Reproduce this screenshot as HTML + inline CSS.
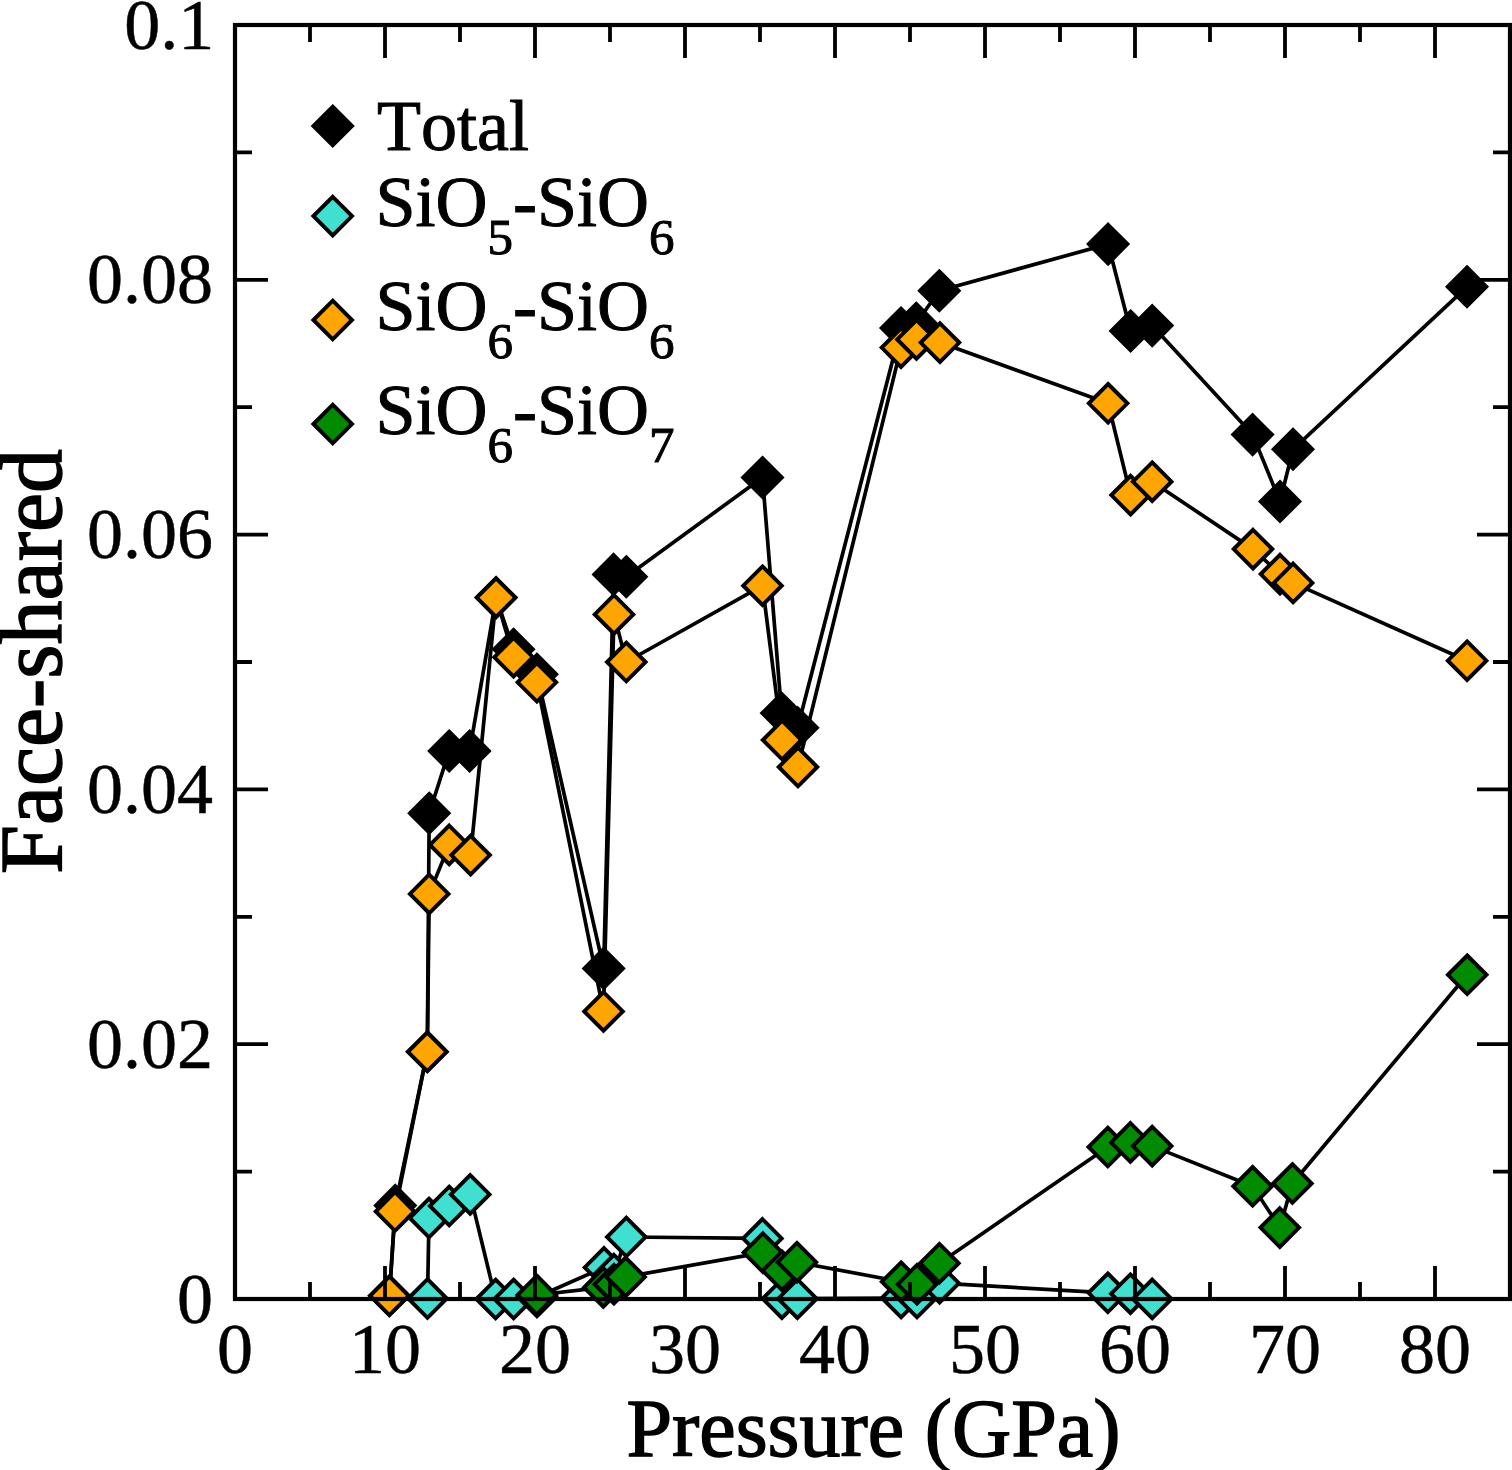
<!DOCTYPE html>
<html lang="en"><head><meta charset="utf-8"><title>Face-shared vs Pressure</title>
<style>
html,body{margin:0;padding:0;background:#fff;}
body{width:1512px;height:1470px;overflow:hidden;}
svg{display:block;}
text{font-family:"Liberation Serif","Times New Roman",Times,serif;fill:#000;font-kerning:none;font-variant-ligatures:none;}
.tk{font-size:72px;stroke:#000;stroke-width:0.5px;}
.lg{font-size:72px;stroke:#000;stroke-width:1px;}
.sb{font-size:51px;}
</style></head><body>
<svg width="1512" height="1470" viewBox="0 0 1512 1470">
<rect width="1512" height="1470" fill="#fff"/>
<!-- data -->
<polyline fill="none" stroke="#000" stroke-width="3.7" stroke-linejoin="round" points="389.4,1295.8 395.3,1205.4 427.3,1051.8 429.2,813.3 449.2,751.0 469.6,751.0 496.1,597.6 513.5,649.3 536.9,674.3 603.7,968.4 613.6,574.4 626.3,576.7 762.5,477.5 781.6,713.1 797.6,727.8 901.0,328.0 916.2,323.3 939.3,290.7 1108.1,244.1 1130.6,331.0 1152.2,325.6 1252.6,434.6 1280.0,501.5 1293.0,449.3 1467.0,286.8"/>
<g stroke="#000" stroke-width="3.9" stroke-linejoin="miter">
<path d="M389.4 1276.5L408.7 1295.8L389.4 1315.1L370.1 1295.8Z" fill="#000"/>
<path d="M395.3 1186.1L414.6 1205.4L395.3 1224.7L376.0 1205.4Z" fill="#000"/>
<path d="M427.3 1032.5L446.6 1051.8L427.3 1071.1L408.0 1051.8Z" fill="#000"/>
<path d="M429.2 794.0L448.5 813.3L429.2 832.6L409.9 813.3Z" fill="#000"/>
<path d="M449.2 731.7L468.5 751.0L449.2 770.3L429.9 751.0Z" fill="#000"/>
<path d="M469.6 731.7L488.9 751.0L469.6 770.3L450.3 751.0Z" fill="#000"/>
<path d="M496.1 578.3L515.4 597.6L496.1 616.9L476.8 597.6Z" fill="#000"/>
<path d="M513.5 630.0L532.8 649.3L513.5 668.6L494.2 649.3Z" fill="#000"/>
<path d="M536.9 655.0L556.2 674.3L536.9 693.6L517.6 674.3Z" fill="#000"/>
<path d="M603.7 949.1L623.0 968.4L603.7 987.7L584.4 968.4Z" fill="#000"/>
<path d="M613.6 555.1L632.9 574.4L613.6 593.7L594.3 574.4Z" fill="#000"/>
<path d="M626.3 557.4L645.6 576.7L626.3 596.0L607.0 576.7Z" fill="#000"/>
<path d="M762.5 458.2L781.8 477.5L762.5 496.8L743.2 477.5Z" fill="#000"/>
<path d="M781.6 693.8L800.9 713.1L781.6 732.4L762.3 713.1Z" fill="#000"/>
<path d="M797.6 708.5L816.9 727.8L797.6 747.1L778.3 727.8Z" fill="#000"/>
<path d="M901.0 308.7L920.3 328.0L901.0 347.3L881.7 328.0Z" fill="#000"/>
<path d="M916.2 304.0L935.5 323.3L916.2 342.6L896.9 323.3Z" fill="#000"/>
<path d="M939.3 271.4L958.6 290.7L939.3 310.0L920.0 290.7Z" fill="#000"/>
<path d="M1108.1 224.8L1127.4 244.1L1108.1 263.4L1088.8 244.1Z" fill="#000"/>
<path d="M1130.6 311.7L1149.9 331.0L1130.6 350.3L1111.3 331.0Z" fill="#000"/>
<path d="M1152.2 306.3L1171.5 325.6L1152.2 344.9L1132.9 325.6Z" fill="#000"/>
<path d="M1252.6 415.3L1271.9 434.6L1252.6 453.9L1233.3 434.6Z" fill="#000"/>
<path d="M1280.0 482.2L1299.3 501.5L1280.0 520.8L1260.7 501.5Z" fill="#000"/>
<path d="M1293.0 430.0L1312.3 449.3L1293.0 468.6L1273.7 449.3Z" fill="#000"/>
<path d="M1467.0 267.5L1486.3 286.8L1467.0 306.1L1447.7 286.8Z" fill="#000"/>
</g>
<polyline fill="none" stroke="#000" stroke-width="3.7" stroke-linejoin="round" points="427.5,1298.5 429.0,1218.0 449.2,1206.0 470.2,1194.4 495.6,1299.0 513.6,1299.0 537.0,1297.0 604.0,1267.4 613.9,1274.1 626.3,1237.0 762.4,1238.4 781.9,1298.7 797.4,1298.7 901.1,1298.0 917.0,1298.0 939.6,1283.2 1107.8,1292.8 1130.4,1293.7 1152.2,1298.9"/>
<g stroke="#000" stroke-width="3.9" stroke-linejoin="miter">
<path d="M427.5 1279.2L446.8 1298.5L427.5 1317.8L408.2 1298.5Z" fill="#40e0d0"/>
<path d="M429.0 1198.7L448.3 1218.0L429.0 1237.3L409.7 1218.0Z" fill="#40e0d0"/>
<path d="M449.2 1186.7L468.5 1206.0L449.2 1225.3L429.9 1206.0Z" fill="#40e0d0"/>
<path d="M470.2 1175.1L489.5 1194.4L470.2 1213.7L450.9 1194.4Z" fill="#40e0d0"/>
<path d="M495.6 1279.7L514.9 1299.0L495.6 1318.3L476.3 1299.0Z" fill="#40e0d0"/>
<path d="M513.6 1279.7L532.9 1299.0L513.6 1318.3L494.3 1299.0Z" fill="#40e0d0"/>
<path d="M537.0 1277.7L556.3 1297.0L537.0 1316.3L517.7 1297.0Z" fill="#40e0d0"/>
<path d="M604.0 1248.1L623.3 1267.4L604.0 1286.7L584.7 1267.4Z" fill="#40e0d0"/>
<path d="M613.9 1254.8L633.2 1274.1L613.9 1293.4L594.6 1274.1Z" fill="#40e0d0"/>
<path d="M626.3 1217.7L645.6 1237.0L626.3 1256.3L607.0 1237.0Z" fill="#40e0d0"/>
<path d="M762.4 1219.1L781.7 1238.4L762.4 1257.7L743.1 1238.4Z" fill="#40e0d0"/>
<path d="M781.9 1279.4L801.2 1298.7L781.9 1318.0L762.6 1298.7Z" fill="#40e0d0"/>
<path d="M797.4 1279.4L816.7 1298.7L797.4 1318.0L778.1 1298.7Z" fill="#40e0d0"/>
<path d="M901.1 1278.7L920.4 1298.0L901.1 1317.3L881.8 1298.0Z" fill="#40e0d0"/>
<path d="M917.0 1278.7L936.3 1298.0L917.0 1317.3L897.7 1298.0Z" fill="#40e0d0"/>
<path d="M939.6 1263.9L958.9 1283.2L939.6 1302.5L920.3 1283.2Z" fill="#40e0d0"/>
<path d="M1107.8 1273.5L1127.1 1292.8L1107.8 1312.1L1088.5 1292.8Z" fill="#40e0d0"/>
<path d="M1130.4 1274.4L1149.7 1293.7L1130.4 1313.0L1111.1 1293.7Z" fill="#40e0d0"/>
<path d="M1152.2 1279.6L1171.5 1298.9L1152.2 1318.2L1132.9 1298.9Z" fill="#40e0d0"/>
</g>
<polyline fill="none" stroke="#000" stroke-width="3.7" stroke-linejoin="round" points="389.4,1295.8 395.0,1211.5 427.3,1051.8 429.2,893.9 449.2,844.9 470.6,855.1 496.1,597.6 513.6,657.2 536.9,682.3 603.5,1011.4 614.0,614.4 626.3,662.0 762.5,585.7 782.1,740.0 798.0,767.0 901.0,347.6 916.5,339.4 940.0,342.6 1108.1,403.3 1130.6,495.1 1152.2,481.7 1253.0,549.1 1280.0,574.1 1293.1,582.9 1467.1,660.7"/>
<g stroke="#000" stroke-width="3.9" stroke-linejoin="miter">
<path d="M389.4 1276.5L408.7 1295.8L389.4 1315.1L370.1 1295.8Z" fill="#ffa500"/>
<path d="M395.0 1192.2L414.3 1211.5L395.0 1230.8L375.7 1211.5Z" fill="#ffa500"/>
<path d="M427.3 1032.5L446.6 1051.8L427.3 1071.1L408.0 1051.8Z" fill="#ffa500"/>
<path d="M429.2 874.6L448.5 893.9L429.2 913.2L409.9 893.9Z" fill="#ffa500"/>
<path d="M449.2 825.6L468.5 844.9L449.2 864.2L429.9 844.9Z" fill="#ffa500"/>
<path d="M470.6 835.8L489.9 855.1L470.6 874.4L451.3 855.1Z" fill="#ffa500"/>
<path d="M496.1 578.3L515.4 597.6L496.1 616.9L476.8 597.6Z" fill="#ffa500"/>
<path d="M513.6 637.9L532.9 657.2L513.6 676.5L494.3 657.2Z" fill="#ffa500"/>
<path d="M536.9 663.0L556.2 682.3L536.9 701.6L517.6 682.3Z" fill="#ffa500"/>
<path d="M603.5 992.1L622.8 1011.4L603.5 1030.7L584.2 1011.4Z" fill="#ffa500"/>
<path d="M614.0 595.1L633.3 614.4L614.0 633.7L594.7 614.4Z" fill="#ffa500"/>
<path d="M626.3 642.7L645.6 662.0L626.3 681.3L607.0 662.0Z" fill="#ffa500"/>
<path d="M762.5 566.4L781.8 585.7L762.5 605.0L743.2 585.7Z" fill="#ffa500"/>
<path d="M782.1 720.7L801.4 740.0L782.1 759.3L762.8 740.0Z" fill="#ffa500"/>
<path d="M798.0 747.7L817.3 767.0L798.0 786.3L778.7 767.0Z" fill="#ffa500"/>
<path d="M901.0 328.3L920.3 347.6L901.0 366.9L881.7 347.6Z" fill="#ffa500"/>
<path d="M916.5 320.1L935.8 339.4L916.5 358.7L897.2 339.4Z" fill="#ffa500"/>
<path d="M940.0 323.3L959.3 342.6L940.0 361.9L920.7 342.6Z" fill="#ffa500"/>
<path d="M1108.1 384.0L1127.4 403.3L1108.1 422.6L1088.8 403.3Z" fill="#ffa500"/>
<path d="M1130.6 475.8L1149.9 495.1L1130.6 514.4L1111.3 495.1Z" fill="#ffa500"/>
<path d="M1152.2 462.4L1171.5 481.7L1152.2 501.0L1132.9 481.7Z" fill="#ffa500"/>
<path d="M1253.0 529.8L1272.3 549.1L1253.0 568.4L1233.7 549.1Z" fill="#ffa500"/>
<path d="M1280.0 554.8L1299.3 574.1L1280.0 593.4L1260.7 574.1Z" fill="#ffa500"/>
<path d="M1293.1 563.6L1312.4 582.9L1293.1 602.2L1273.8 582.9Z" fill="#ffa500"/>
<path d="M1467.1 641.4L1486.4 660.7L1467.1 680.0L1447.8 660.7Z" fill="#ffa500"/>
</g>
<polyline fill="none" stroke="#000" stroke-width="3.7" stroke-linejoin="round" points="536.8,1295.0 603.3,1287.4 613.9,1284.2 625.6,1276.9 762.9,1252.6 781.9,1270.7 796.9,1262.2 901.1,1281.7 917.0,1284.3 939.4,1263.2 1107.8,1147.0 1130.4,1142.4 1152.2,1146.1 1252.6,1186.3 1279.8,1227.6 1292.4,1183.5 1467.2,974.8"/>
<g stroke="#000" stroke-width="3.9" stroke-linejoin="miter">
<path d="M536.8 1275.7L556.1 1295.0L536.8 1314.3L517.5 1295.0Z" fill="#008b00"/>
<path d="M603.3 1268.1L622.6 1287.4L603.3 1306.7L584.0 1287.4Z" fill="#008b00"/>
<path d="M613.9 1264.9L633.2 1284.2L613.9 1303.5L594.6 1284.2Z" fill="#008b00"/>
<path d="M625.6 1257.6L644.9 1276.9L625.6 1296.2L606.3 1276.9Z" fill="#008b00"/>
<path d="M762.9 1233.3L782.2 1252.6L762.9 1271.9L743.6 1252.6Z" fill="#008b00"/>
<path d="M781.9 1251.4L801.2 1270.7L781.9 1290.0L762.6 1270.7Z" fill="#008b00"/>
<path d="M796.9 1242.9L816.2 1262.2L796.9 1281.5L777.6 1262.2Z" fill="#008b00"/>
<path d="M901.1 1262.4L920.4 1281.7L901.1 1301.0L881.8 1281.7Z" fill="#008b00"/>
<path d="M917.0 1265.0L936.3 1284.3L917.0 1303.6L897.7 1284.3Z" fill="#008b00"/>
<path d="M939.4 1243.9L958.7 1263.2L939.4 1282.5L920.1 1263.2Z" fill="#008b00"/>
<path d="M1107.8 1127.7L1127.1 1147.0L1107.8 1166.3L1088.5 1147.0Z" fill="#008b00"/>
<path d="M1130.4 1123.1L1149.7 1142.4L1130.4 1161.7L1111.1 1142.4Z" fill="#008b00"/>
<path d="M1152.2 1126.8L1171.5 1146.1L1152.2 1165.4L1132.9 1146.1Z" fill="#008b00"/>
<path d="M1252.6 1167.0L1271.9 1186.3L1252.6 1205.6L1233.3 1186.3Z" fill="#008b00"/>
<path d="M1279.8 1208.3L1299.1 1227.6L1279.8 1246.9L1260.5 1227.6Z" fill="#008b00"/>
<path d="M1292.4 1164.2L1311.7 1183.5L1292.4 1202.8L1273.1 1183.5Z" fill="#008b00"/>
<path d="M1467.2 955.5L1486.5 974.8L1467.2 994.1L1447.9 974.8Z" fill="#008b00"/>
</g>
<!-- axes -->
<path d="M310.0 1299.0v-17M310.0 25.0v17M385.0 1299.0v-33M385.0 25.0v33M460.0 1299.0v-17M460.0 25.0v17M535.0 1299.0v-33M535.0 25.0v33M610.0 1299.0v-17M610.0 25.0v17M685.0 1299.0v-33M685.0 25.0v33M760.0 1299.0v-17M760.0 25.0v17M835.0 1299.0v-33M835.0 25.0v33M910.0 1299.0v-17M910.0 25.0v17M985.0 1299.0v-33M985.0 25.0v33M1060.0 1299.0v-17M1060.0 25.0v17M1135.0 1299.0v-33M1135.0 25.0v33M1210.0 1299.0v-17M1210.0 25.0v17M1285.0 1299.0v-33M1285.0 25.0v33M1360.0 1299.0v-17M1360.0 25.0v17M1435.0 1299.0v-33M1435.0 25.0v33M235.0 1171.6h17M1510.0 1171.6h-17M235.0 1044.2h33M1510.0 1044.2h-33M235.0 916.8h17M1510.0 916.8h-17M235.0 789.4h33M1510.0 789.4h-33M235.0 662.0h17M1510.0 662.0h-17M235.0 534.6h33M1510.0 534.6h-33M235.0 407.2h17M1510.0 407.2h-17M235.0 279.8h33M1510.0 279.8h-33M235.0 152.4h17M1510.0 152.4h-17" stroke="#000" stroke-width="3.8" fill="none"/>
<rect x="235.0" y="25.0" width="1275.0" height="1274.0" fill="none" stroke="#000" stroke-width="4.2"/>
<g class="tk" text-anchor="middle">
<text x="235.0" y="1372.5">0</text>
<text x="385.0" y="1372.5">10</text>
<text x="535.0" y="1372.5">20</text>
<text x="685.0" y="1372.5">30</text>
<text x="835.0" y="1372.5">40</text>
<text x="985.0" y="1372.5">50</text>
<text x="1135.0" y="1372.5">60</text>
<text x="1285.0" y="1372.5">70</text>
<text x="1435.0" y="1372.5">80</text>
</g>
<g class="tk" text-anchor="end">
<text x="213" y="1322.5">0</text>
<text x="213" y="1067.7">0.02</text>
<text x="213" y="812.9">0.04</text>
<text x="213" y="558.1">0.06</text>
<text x="213" y="303.3">0.08</text>
<text x="214.3" y="48.5">0.1</text>
</g>
<text x="873.5" y="1455.5" font-size="82" text-anchor="middle" stroke="#000" stroke-width="1.4">Pressure (GPa)</text>
<text transform="translate(60.5 661.5) rotate(-90)" font-size="88" text-anchor="middle" stroke="#000" stroke-width="1.4">Face-shared</text>
<g stroke="#000" stroke-width="3.9">
<path d="M332.7 106.7L352.0 126.0L332.7 145.3L313.4 126.0Z" fill="#000"/>
<path d="M332.7 196.8L352.0 216.1L332.7 235.4L313.4 216.1Z" fill="#40e0d0"/>
<path d="M332.7 300.7L352.0 320.0L332.7 339.3L313.4 320.0Z" fill="#ffa500"/>
<path d="M332.7 404.7L352.0 424.0L332.7 443.3L313.4 424.0Z" fill="#008b00"/>
</g>
<text class="lg" x="377" y="150">Total</text>
<text class="lg" x="375.5" y="226">SiO<tspan class="sb" dy="27.7">5</tspan><tspan dy="-27.7">-SiO</tspan><tspan class="sb" dy="27.7">6</tspan></text>
<text class="lg" x="375.5" y="330">SiO<tspan class="sb" dy="27.7">6</tspan><tspan dy="-27.7">-SiO</tspan><tspan class="sb" dy="27.7">6</tspan></text>
<text class="lg" x="375.5" y="434">SiO<tspan class="sb" dy="27.7">6</tspan><tspan dy="-27.7">-SiO</tspan><tspan class="sb" dy="27.7">7</tspan></text>
</svg>
</body></html>
